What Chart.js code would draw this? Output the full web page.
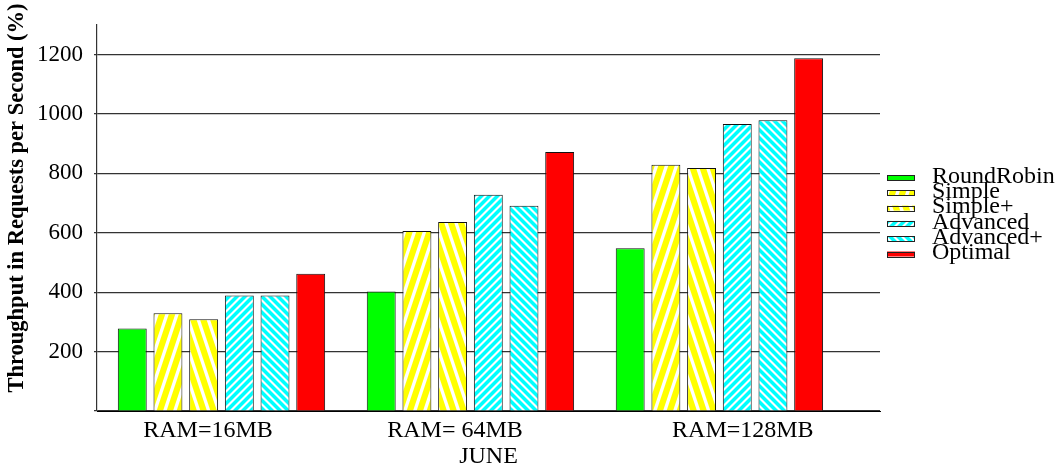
<!DOCTYPE html>
<html>
<head>
<meta charset="utf-8">
<script src="https://cdn.jsdelivr.net/npm/chart.js@4.4.1/dist/chart.umd.min.js"></script>
<style>
  html, body { margin: 0; padding: 0; background: #fff; }
  #wrap { width: 1063px; height: 472px; position: relative; }
</style>
</head>
<body>
<div id="wrap"><canvas id="chart" width="1063" height="472"></canvas></div>
<script>
// Memory configurations along the x axis
const categories = ['RAM=16MB', 'RAM= 64MB', 'RAM=128MB'];

// Throughput per scheduling policy (requests per second, %)
const seriesNames = ['RoundRobin', 'Simple', 'Simple+', 'Advanced', 'Advanced+', 'Optimal'];
const roundRobin   = [278, 402, 548];
const simple       = [329, 606, 829];
const simplePlus   = [309, 636, 818];
const advanced     = [389, 728, 966];
const advancedPlus = [389, 691, 979];
const optimal      = [462, 872, 1187];

// Value axis
const yMin = 0;
const yMax = 1300;
const yStep = 100;
const yLabelStep = 200;

const SERIF = "'Liberation Serif', 'Times New Roman', serif";

// Striped fills: white bands over a base colour
function stripePattern(base, period, band, slope, dir) {
  // slope = vertical rise per horizontal pixel of a band edge
  const w = period, h = Math.round(period * slope);
  const c = document.createElement('canvas');
  c.width = w; c.height = h;
  const g = c.getContext('2d');
  g.fillStyle = base;
  g.fillRect(0, 0, w, h);
  g.fillStyle = '#ffffff';
  for (let k = -2; k <= 2; k++) {
    const x0 = k * period;
    g.beginPath();
    if (dir === '/') {
      g.moveTo(x0, 0); g.lineTo(x0 + band, 0);
      g.lineTo(x0 + band - period, h); g.lineTo(x0 - period, h);
    } else {
      g.moveTo(x0, 0); g.lineTo(x0 + band, 0);
      g.lineTo(x0 + band + period, h); g.lineTo(x0 + period, h);
    }
    g.closePath();
    g.fill();
  }
  return document.createElement('canvas').getContext('2d').createPattern(c, 'repeat');
}

const fills = [
  '#00ff00',
  stripePattern('#ffff00', 10, 3.5, 3, '/'),
  stripePattern('#ffff00', 10, 3.5, 3, '\\'),
  stripePattern('#00ffff', 8, 3, 1, '/'),
  stripePattern('#00ffff', 8, 3, 1, '\\'),
  '#ff0000'
];

const seriesValues = [roundRobin, simple, simplePlus, advanced, advancedPlus, optimal];

const datasets = seriesNames.map((name, s) => ({
  label: name,
  data: seriesValues[s].map((v, i) => ({ x: i, y: v })),
  backgroundColor: fills[s],
  borderColor: '#111',
  borderWidth: 1,
  categoryPercentage: 0.867,
  barPercentage: 0.81
}));

// Horizontal nudge of each category caption relative to its bar group (axis units)
const captionShift = [-0.054, -0.062, 0.094];

// Rotated y-axis caption
const yCaption = {
  id: 'yCaption',
  afterDraw(chart) {
    const ctx = chart.ctx;
    ctx.save();
    ctx.translate(17, 198);
    ctx.rotate(-Math.PI / 2);
    ctx.font = 'bold 22.5px ' + SERIF;
    ctx.fillStyle = '#000';
    ctx.textAlign = 'center';
    ctx.textBaseline = 'middle';
    ctx.fillText('Throughput in Requests per Second (%)', 0, 0);
    ctx.restore();
  }
};

// Compact legend stacked to the right of the plot
const sideLegend = {
  id: 'sideLegend',
  afterDraw(chart) {
    const ctx = chart.ctx;
    const left = chart.chartArea.right + 7;
    const boxW = 28, boxH = 5, rowH = 15.3;
    const top = 177.5;
    ctx.save();
    chart.data.datasets.forEach((ds, i) => {
      const cy = top + i * rowH;
      ctx.fillStyle = ds.backgroundColor;
      ctx.fillRect(left, cy - boxH / 2, boxW, boxH);
      ctx.strokeStyle = '#222';
      ctx.lineWidth = 1;
      ctx.strokeRect(left + 0.5, Math.round(cy - boxH / 2) + 0.5, boxW - 1, boxH);
      ctx.font = '24px ' + SERIF;
      ctx.fillStyle = '#000';
      ctx.textAlign = 'left';
      ctx.textBaseline = 'middle';
      ctx.fillText(ds.label, left + 45, cy - 1);
    });
    ctx.restore();
  }
};

new Chart(document.getElementById('chart'), {
  type: 'bar',
  data: { datasets },
  plugins: [yCaption, sideLegend],
  options: {
    responsive: false,
    animation: false,
    devicePixelRatio: 1,
    layout: { padding: { left: 0, right: 183, top: 21, bottom: 0 } },
    plugins: {
      legend: { display: false },
      tooltip: { enabled: false }
    },
    scales: {
      x: {
        type: 'linear',
        bounds: 'data',
        offset: false,
        min: -0.5,
        max: 2.645,
        afterBuildTicks: (scale) => {
          scale.ticks = categories.map((_, i) => ({ value: i + captionShift[i], index: i }));
        },
        afterFit: (scale) => { scale.height = 61; },
        ticks: {
          callback: (v, i) => categories[i] ?? '',
          font: { family: SERIF, size: 24 },
          color: '#000',
          padding: 5,
          maxRotation: 0,
          autoSkip: false
        },
        grid: { display: false, drawTicks: false },
        border: { display: true, color: '#000', width: 1 },
        title: {
          display: true,
          text: 'JUNE',
          font: { family: SERIF, size: 24 },
          color: '#000',
          padding: { top: 0, bottom: 1 }
        }
      },
      y: {
        min: yMin,
        max: yMax,
        afterFit: (scale) => { scale.width = 97; },
        ticks: {
          stepSize: yStep,
          callback: (v) => (v > 0 && v % yLabelStep === 0) ? String(v) : '',
          font: { family: SERIF, size: 23 },
          color: '#000',
          padding: 11
        },
        grid: { color: '#333', lineWidth: 1.2, tickLength: 3, tickColor: '#333' },
        border: { display: true, color: '#333', width: 1.2 }
      }
    }
  }
});
</script>
</body>
</html>
